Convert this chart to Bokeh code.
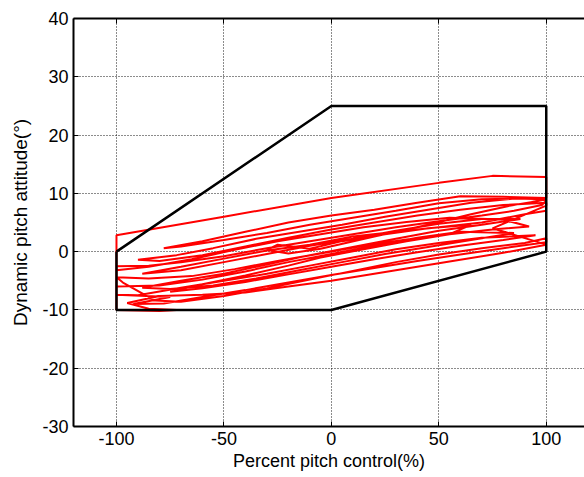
from bokeh.plotting import figure
from bokeh.models import (LinearAxis, FixedTicker, Range1d, PrintfTickFormatter,
                          CustomJSTickFormatter)
from bokeh.embed import file_html
from bokeh.resources import INLINE

# Flight envelope boundary (percent pitch control vs. pitch attitude)
envelope_x = [-100, 0, 100, 100, 0, -100, -100]
envelope_y = [0, 25, 25, 0, -10, -10, 0]

# Recorded pitch trajectory (control %, attitude deg)
traj_x = [-100, -100, -50, 0, 50, 75, 100, 100, 80, 60,
          40, 20, 0, -20, -40, -60, -78, -70, -50, -30,
          -10, 10, 30, 50, 70, 90, 100, 98, 85, 70,
          50, 30, 10, -10, -30, -50, -70, -85, -100, -100,
          -85, -65, -45, -25, -5, 15, 35, 55, 80, 92,
          75, 55, 35, 15, -5, -25, -45, -65, -85, -100,
          -97, -82, -70, -50, -30, -10, 10, 30, 50, 70,
          90, 100, 100, 80, 60, 40, 20, 0, -20, -40,
          -60, -78, -92, -75, -100, -90, -70, -50, -30, -10,
          10, 30, 50, 70, 95, 80, 60, 40, 20, 0,
          -20, -40, -60, -75, -60, -40, -20, -5, 15, 35,
          55, 65, 45, 25, 5, -10, -25, -30, -20, -5,
          20, 45, 65, 82, 95, 100, 85, 65, 45, 25,
          5, -15, -35, -55, -72, -90, -80, -60, -40, -20,
          0, 20, 40, 60, 80, 100, 100, 75, 100, 80,
          60, 40, 20, 0, -20, -40, -60, -80, -95, -85,
          -72, -80, -100, -100, -80, -60, -40, -20, 0, 20,
          40, 60, 85, 65, 45, 25, 5, -15, -35, -55,
          -75, -88, -70, -50, -30, -10, 10, 30, 50, 70,
          88, 70, 50, 30, 10, -10, -30, -50, -70, -88,
          -70, -50, -30, -10, 10, 30, 50, 70, 90, 100]
traj_y = [-10.0, 2.8, 6.0, 9.2, 11.8, 13.0, 12.8, 9.2, 9.4, 9.5,
          8.4, 7.2, 6.2, 5.0, 3.4, 1.8, 0.6, 0.9, 2.0, 3.2,
          4.6, 5.8, 7.0, 8.3, 9.0, 9.1, 8.8, 8.0, 7.0, 6.2,
          5.2, 4.2, 3.0, 1.8, 0.6, -0.8, -1.8, -2.4, -2.5, -3.2,
          -2.6, -1.3, 0.3, 1.8, 3.0, 4.2, 5.1, 5.8, 5.5, 4.3,
          3.8, 3.0, 2.1, 1.0, -0.3, -1.6, -3.0, -4.2, -4.6, -4.4,
          -5.3, -8.4, -8.6, -7.6, -6.3, -4.8, -3.3, -1.8, -0.5, 0.6,
          1.5, 2.3, 1.6, 0.6, -0.5, -1.6, -2.8, -4.0, -5.3, -6.6,
          -7.8, -8.9, -9.0, -7.8, -7.4, -7.5, -6.2, -5.0, -3.8, -2.4,
          -1.0, 0.4, 1.5, 2.4, 2.8, 2.0, 1.0, -0.1, -1.3, -2.6,
          -3.9, -5.2, -6.3, -6.9, -5.6, -4.1, -2.4, -1.0, 0.4, 1.8,
          3.0, 4.6, 4.0, 3.0, 1.8, 0.5, 1.2, 0.3, -0.3, 0.5,
          2.6, 4.6, 6.4, 7.8, 8.6, 9.0, 9.1, 8.4, 7.2, 6.0,
          4.6, 3.4, 2.2, 0.6, -0.6, -1.4, -1.6, -0.6, 0.9, 2.4,
          3.8, 5.0, 6.2, 7.2, 8.0, 8.4, 7.9, 4.0, 1.2, -0.2,
          -1.4, -2.6, -3.8, -5.0, -6.0, -7.0, -7.4, -7.6, -8.8, -9.8,
          -10.0, -10.2, -10.0, -6.0, -5.8, -4.8, -3.4, -1.8, -0.4, 1.0,
          2.4, 3.4, 3.2, 2.0, 0.8, -0.4, -1.8, -3.2, -4.6, -5.8,
          -6.4, -6.2, -5.0, -3.8, -2.2, -0.6, 0.8, 2.2, 3.6, 4.6,
          5.6, 5.6, 4.8, 3.6, 2.2, 1.0, -0.4, -1.8, -3.2, -3.8,
          -2.6, -1.2, 0.2, 1.2, 2.6, 3.4, 4.2, 5.0, 6.4, 7.0]

x_ticks = [-100, -50, 0, 50, 100]
y_ticks = [-30, -20, -10, 0, 10, 20, 30, 40]

FONT = "Liberation Sans"

p = figure(width=584, height=477, output_backend="svg", toolbar_location=None,
           x_range=Range1d(-120, 117.8), y_range=Range1d(-30, 40),
           x_axis_location=None, y_axis_location=None,
           min_border_left=73, min_border_right=0, min_border_top=18,
           min_border_bottom=51)
p.outline_line_color = None
p.background_fill_color = "white"
p.border_fill_color = "white"


def style_axis(ax, ticks):
    ax.ticker = FixedTicker(ticks=ticks)
    ax.formatter = PrintfTickFormatter(format="%d")
    ax.axis_line_color = "black"
    ax.axis_line_width = 2
    ax.major_tick_in = 5
    ax.major_tick_out = 0
    ax.major_tick_line_width = 1
    ax.minor_tick_line_color = None
    ax.major_label_text_font = FONT
    ax.major_label_text_font_size = "18px"
    ax.major_label_text_color = "black"
    ax.axis_label_text_font = FONT
    ax.axis_label_text_font_size = "18px"
    ax.axis_label_text_font_style = "normal"
    ax.axis_label_text_color = "black"


left = LinearAxis(axis_label="Dynamic pitch attitude(°)")
style_axis(left, y_ticks)
left.axis_label_text_font_size = "19px"
left.major_label_standoff = 5
left.axis_label_standoff = 8
p.add_layout(left, "left")

bottom = LinearAxis(axis_label="Percent pitch control(%)")
style_axis(bottom, x_ticks)
bottom.major_label_standoff = 5
bottom.axis_label_standoff = 3
p.add_layout(bottom, "below")

# top frame edge with inward ticks, no labels
top = LinearAxis()
style_axis(top, x_ticks)
top.formatter = CustomJSTickFormatter(code="return '';")
top.major_label_standoff = 0
p.add_layout(top, "above")

p.xgrid.ticker = FixedTicker(ticks=x_ticks)
p.ygrid.ticker = FixedTicker(ticks=y_ticks)
for g in (p.xgrid, p.ygrid):
    g.grid_line_color = "black"
    g.grid_line_width = 1
    g.grid_line_dash = "1 2"
    g.grid_line_alpha = 0.9

p.line(traj_x, traj_y, line_color="#ff0000", line_width=2)
p.line(envelope_x, envelope_y, line_color="black", line_width=2.5)

open("out.html", "w").write(file_html(p, INLINE))
